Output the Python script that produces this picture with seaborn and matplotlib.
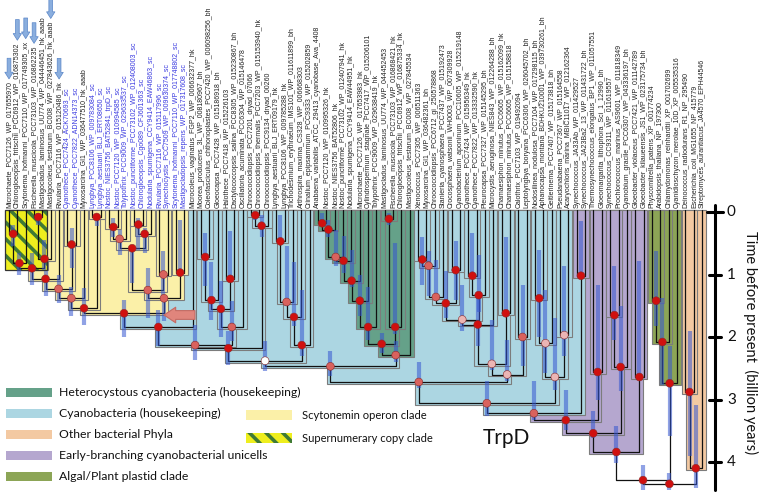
import matplotlib
matplotlib.use("Agg")
import matplotlib.pyplot as plt
import seaborn as sns
import pandas as pd
from matplotlib.patches import Rectangle

# ---- tips (left to right) ----
tip_labels = [
    "Microchaete_PCC7126_WP_017655970",
    "Chlorogloeopsis_fritschii_PCC6912_WP_016875302",
    "Scytonema_hofmanni_PCC7110_WP_017749305_xx",
    "Fischerella_muscicola_PCC73103_WP_016862235",
    "Mastigocladus_laminosus_UU774_WP_044446451_hk_aaab",
    "Mastigocoleus_testarum_BC008_WP_027843626_hk_aaab",
    "Rivularia_PCC7116_WP_015120486_hk",
    "Cyanothece_PCC7424_ACK70693_sc",
    "Cyanothece_PCC7822_ADN14373_sc",
    "Myxosarcina_GI1_WP_036477510_hk_aaab",
    "Lyngbya_PCC8106_WP_009783084_sc",
    "Lyngbya_aestuarii_BLJ_ERT08650_sc",
    "Nostoc_NIES3756_BAT52841_trpD_sc",
    "Nostoc_PCC7120_WP_010994585_sc",
    "Tolypothrix_PCC9009_WP_029633537_sc",
    "Nostoc_punctiforme_PCC73102_WP_012408003_sc",
    "Chlorogloeopsis_Cgo089_CFJ601363_sc",
    "Nodularia_spumigena_CCY9414_EAW46863_sc",
    "Rivularia_PCC7116_WP_015117996_sc",
    "Synechocystis_PCC7509_WP_009630374_sc",
    "Scytonema_hofmanni_PCC7110_WP_017748802_sc",
    "Mastigocladopsis_repens_WP_017317608_sc",
    "Microcoleus_vaginatus_FGP2_WP_006632377_hk",
    "Moorea_producens_3L_WP_008180967_bh",
    "Coleofasciculus_chthonoplastes_PCC7420_WP_006098256_bh",
    "Gloeocapsa_PCC7428_WP_015186918_bh",
    "Halothece_PCC7418_WP_015226103",
    "Dactylococcopsis_salina_PCC8305_WP_015230867_bh",
    "Oscillatoria_acuminata_PCC6304_WP_015146478",
    "Chroococcidiopsis_PCC7201_dryad_07066",
    "Chroococcidiopsis_thermalis_PCC7203_WP_015153940_hk",
    "Chroococcidiopsis_PCC9134_dryad_00260",
    "Lyngbya_aestuarii_BLJ_ERT09179_hk",
    "Lyngbya_PCC8106_WP_009785288_hk",
    "Trichodesmium_erythraeum_IMS101_WP_011611899_bh",
    "Arthrospira_maxima_CS328_WP_006668303",
    "Crinalium_epipsammum_PCC9333_WP_015202859",
    "Anabaena_variabilis_ATCC_29413_cyanobase_Ava_4408",
    "Nostoc_PCC7120_WP_010995326_hk",
    "Nostoc_NIES3756_BAT52806_hk",
    "Nostoc_punctiforme_PCC73102_WP_012407941_hk",
    "Nodularia_spumigena_CCY9414_EAW44951_hk",
    "Microchaete_PCC7126_WP_017653983_hk",
    "Cylindrospermum_stagnale_PCC7417_WP_015206101",
    "Tolypothrix_PCC9009_WP_029638419_hk",
    "Mastigocladus_laminosus_UU774_WP_044452453",
    "Fischerella_muscicola_PCC73103_WP_016868421_hk",
    "Chlorogloeopsis_fritschii_PCC6912_WP_016875334_hk",
    "Mastigocoleus_testarum_BC008_WP_027845534",
    "Xenococcus_PCC7305_WP_006511363",
    "Myxosarcina_GI1_WP_036482361_bh",
    "Chroococcidiopsis_PCC6712_gi_250578868",
    "Stanieria_cyanosphaera_PCC7437_WP_015192473",
    "Crocosphaera_watsonii_WH0003_WP_007309928",
    "Cyanobacterium_aponinum_PCC10605_WP_015219148",
    "Cyanothece_PCC7424_WP_015956349_hk",
    "Cyanothece_PCC7822_WP_013332590_hk",
    "Pleurocapsa_PCC7327_WP_015145295_bh",
    "Microcystis_aeruginosa_NIES843_WP_012264288_bh",
    "Chamaesiphon_minutus_PCC6605_WP_015162099_hk",
    "Chamaesiphon_minutus_PCC6605_WP_015158818",
    "Calothrix_PCC7103_WP_019492094",
    "Leptolyngbya_boryana_PCC6306_WP_026045702_bh",
    "Nodosilinea_nodulosa_PCC7104_WP_017298115_bh",
    "Aphanocapsa_montana_BDHKU210001_WP_039730261_bh",
    "Geitlerinema_PCC7407_WP_015173818_bh",
    "Pseudanabaena_PCC7367_WP_015164558",
    "Acaryochloris_marina_MBIC11017_WP_012162364",
    "Synechococcus_JA33Ab_WP_011429527",
    "Synechococcus_JA23Ba2_13_WP_011431722_bh",
    "Thermosynechococcus_elongatus_BP1_WP_011057551",
    "Gloeomargarita_lithophora_Sci_1_12990_bh",
    "Synechococcus_CC9311_WP_011619557",
    "Prochlorococcus_marinus_AS9601_WP_011818349",
    "Cyanobium_gracile_PCC6307_WP_043336197_bh",
    "Gloeobacter_violaceus_PCC7421_WP_011142789",
    "Gloeobacter_kilaueensis_JS1_WP_023175734_bh",
    "Physcomitrella_patens_XP_001774234",
    "Arabidopsis_thaliana_NP_197300",
    "Chlamydomonas_reinhardtii_XP_001702699",
    "Cyanidioschyzon_merolae_10D_XP_005535316",
    "Deinococcus_radiodurans_R1_NP_295490",
    "Escherichia_coli_MG1655_NP_415779",
    "Streptomyces_aurantiacus_JA4570_EPH44546",
]
blue_tips = [7, 8] + list(range(10, 22))
arrow_tips = [0, 1, 2, 3, 5, 6]

# ---- internal nodes: (name, left, right, age, ci_low, ci_high, support) ----
yellow_nodes = [
    ("a", 0, 1, 0.35, 0.20, 0.55, "r"),
    ("b", "a", 2, 0.82, 0.65, 1.00, "r"),
    ("c", 3, 4, 0.08, 0.02, 0.20, "r"),
    ("d", "c", 5, 0.75, 0.45, 0.93, "r"),
    ("e", "b", "d", 0.90, 0.66, 1.17, "r"),
    ("f", "e", 6, 1.07, 0.95, 1.35, "r"),
    ("g78", 7, 8, 0.52, 0.26, 0.90, "r"),
    ("g", "f", "g78", 1.23, 1.00, 1.46, "s"),
    ("h", "g", 9, 1.38, 1.20, 1.67, "s"),
    ("ly", 10, 11, 0.08, 0.05, 0.23, "r"),
    ("i", "h", "ly", 1.54, 1.22, 1.81, "r"),
    ("no1", 12, 13, 0.24, 0.10, 0.40, "r"),
    ("no2", "no1", 14, 0.43, 0.29, 0.69, "s"),
    ("no3", 15, 16, 0.20, 0.10, 0.60, "r"),
    ("no4", "no3", 17, 0.35, 0.26, 0.66, "r"),
    ("no5", "no2", "no4", 0.58, 0.55, 1.14, "r"),
    ("ri", 18, 19, 1.00, 0.63, 1.35, "s"),
    ("no6", "no5", "ri", 1.25, 0.90, 1.70, "s"),
    ("sc", 20, 21, 0.97, 0.13, 0.97, "r"),
    ("no7", "no6", "sc", 1.38, 1.35, 1.75, "s"),
    ("j", "i", "no7", 1.62, 1.40, 2.00, "r"),
]
hatched_tips = [0, 5]
hatched_age = 0.93

blue_nodes = [
    ("k", "j", 22, 1.84, 1.57, 2.15, "r"),
    ("m1", 23, 24, 0.72, 0.34, 1.19, "r"),
    ("m2", "m1", 25, 1.41, 0.80, 1.73, "r"),
    ("m3", 26, 27, 1.07, 0.31, 1.06, "r"),
    ("m4", "m2", "m3", 1.55, 1.10, 2.00, "r"),
    ("m5", "m4", 28, 1.84, 1.43, 2.07, "s"),
    ("P", "k", "m5", 2.13, 1.80, 2.37, "s"),
    ("r1", 29, 30, 0.05, 0.00, 0.13, "r"),
    ("r2", "r1", 31, 0.22, 0.05, 0.40, "r"),
    ("Q", "P", "r2", 2.18, 1.90, 2.45, "r"),
    ("l1", 32, 33, 0.47, 0.05, 0.50, "r"),
    ("l2", "l1", 34, 1.44, 0.55, 1.50, "s"),
    ("l3", "l2", 35, 1.68, 0.80, 1.83, "r"),
    ("l4", "l3", 36, 2.13, 1.25, 2.30, "r"),
    ("W", "Q", "l4", 2.38, 2.07, 2.55, "w"),
    ("S", "W", "h9", 2.47, 2.23, 2.63, "s"),
    ("x1", 49, 50, 0.76, 0.40, 1.17, "r"),
    ("x2", "x1", 51, 0.86, 0.63, 1.35, "s"),
    ("x3", "x2", 52, 1.36, 0.77, 1.43, "s"),
    ("x4", 53, 54, 0.93, 0.47, 1.40, "r"),
    ("x5", "x3", "x4", 1.46, 0.95, 1.70, "r"),
    ("c1", 55, 56, 1.02, 0.34, 1.06, "r"),
    ("c2", "c1", 57, 1.33, 0.69, 1.60, "r"),
    ("x6", "x5", "c2", 1.72, 1.17, 1.90, "p"),
    ("x7", "x6", 58, 1.80, 1.30, 2.15, "r"),
    ("ch", 59, 60, 1.62, 0.40, 1.65, "r"),
    ("x8", "x7", "ch", 2.43, 1.73, 2.53, "p"),
    ("ca", 61, 62, 2.00, 1.17, 2.47, "s"),
    ("x9", "x8", "ca", 2.60, 2.05, 2.71, "p"),
    ("T", "S", "x9", 2.72, 2.40, 2.82, "s"),
    ("nd", 63, 64, 1.38, 0.61, 2.00, "r"),
    ("nd2", "nd", 65, 2.10, 1.25, 2.58, "p"),
    ("ps", 66, 67, 1.97, 0.87, 2.31, "p"),
    ("nd3", "nd2", "ps", 2.64, 1.70, 2.85, "p"),
    ("U", "T", "nd3", 3.06, 2.70, 3.27, "s"),
    ("V", "U", "sj", 3.22, 2.71, 3.33, "s"),
]

green_nodes = [
    ("h1", 37, 38, 0.18, 0.02, 0.20, "r"),
    ("h2", "h1", 39, 0.28, 0.12, 0.40, "r"),
    ("h3", "h2", 40, 0.72, 0.29, 0.87, "s"),
    ("h4", "h3", 41, 0.78, 0.39, 0.98, "r"),
    ("h5", "h4", 42, 1.10, 0.60, 1.20, "r"),
    ("h6", "h5", 43, 1.42, 1.00, 1.67, "r"),
    ("h7", "h6", 44, 1.84, 1.20, 2.05, "r"),
    ("f1", 45, 46, 0.11, 0.02, 0.20, "r"),
    ("f2", "f1", 47, 1.84, 0.50, 1.95, "r"),
    ("h8", "h7", "f2", 2.11, 1.94, 2.26, "r"),
    ("h9", "h8", 48, 2.29, 2.07, 2.40, "s"),
]

purple_nodes = [
    ("sj", 68, 69, 1.02, 0.15, 1.03, "r"),
    ("tg", 70, 71, 2.56, 1.17, 3.00, "r"),
    ("V2", "V", "tg", 3.33, 2.85, 3.49, "r"),
    ("sp", 72, 73, 1.65, 0.87, 2.05, "r"),
    ("sp2", "sp", 74, 2.48, 1.51, 2.87, "r"),
    ("V3", "V2", "sp2", 3.54, 3.19, 3.62, "r"),
    ("gb", 75, 76, 2.64, 0.79, 2.69, "r"),
    ("CY", "V3", "gb", 3.84, 3.43, 4.02, "r"),
]

olive_nodes = [
    ("p1", 77, 78, 1.42, 0.63, 1.83, "r"),
    ("p2", "p1", 79, 2.08, 1.38, 2.77, "r"),
    ("p3", "p2", 80, 2.74, 2.15, 3.59, "r"),
]

orange_nodes = [
    ("o1", 81, 82, 2.88, 1.91, 3.91, "r"),
    ("o2", "o1", 83, 4.10, 3.09, 4.42, "r"),
]

root_nodes = [
    ("A", "CY", "p3", 4.29, 4.05, 4.45, "r"),
    ("R", "A", "o2", 4.35, 4.18, 4.45, "r"),
]

time_ticks = [0, 1, 2, 3, 4]

legend_left = [
    ("Heterocystous cyanobacteria (housekeeping)", "#65a189"),
    ("Cyanobacteria (housekeeping)", "#acd6e2"),
    ("Other bacterial Phyla", "#f3c9a2"),
    ("Early-branching cyanobacterial unicells", "#b5a7cf"),
    ("Algal/Plant plastid clade", "#8ca556"),
]
legend_right = ["Scytonemin operon clade", "Supernumerary copy clade"]

clade_fill = {
    "yellow": "#fbf0a8", "blue": "#acd6e2", "green": "#65a189",
    "purple": "#b5a7cf", "olive": "#8ca556", "orange": "#f3c9a2",
}
support_color = {"r": "#d0100f", "s": "#d9625d", "p": "#ebb5b4", "w": "#ffffff"}

W_PX, H_PX = 760, 496


def dx(p):
    # figure pixel column -> tip units
    return (p - 9) / 8.35


def dy(p):
    # figure pixel row -> age (billion years)
    return (p - 212) / 62.5


def main():
    sns.set_theme(style="white")
    plt.rcParams["font.family"] = ["Lato", "DejaVu Sans"]
    plt.rcParams["hatch.linewidth"] = 2.6

    groups = [("yellow", yellow_nodes), ("blue", blue_nodes),
              ("green", green_nodes), ("purple", purple_nodes),
              ("olive", olive_nodes), ("orange", orange_nodes),
              (None, root_nodes)]
    nodes = {}
    for clade, lst in groups:
        for name, l, r, age, lo, hi, sup in lst:
            nodes[name] = dict(l=l, r=r, age=age, lo=lo, hi=hi, sup=sup,
                               clade=clade)

    def xpos(k):
        if isinstance(k, int):
            return float(k)
        n = nodes[k]
        if "x" not in n:
            n["x"] = (xpos(n["l"]) + xpos(n["r"])) / 2
        return n["x"]

    def age(k):
        return -0.03 if isinstance(k, int) else nodes[k]["age"]

    for k in nodes:
        xpos(k)

    fig = plt.figure(figsize=(W_PX / 100, H_PX / 100), dpi=100)
    ax = fig.add_axes([0, 0, 1, 1])
    ax.set_xlim(dx(0), dx(W_PX))
    ax.set_ylim(dy(H_PX), dy(0))

    # clade shading, deepest first so nested boxes show their outlines
    pad = 0.45
    shaded = sorted([k for k in nodes if nodes[k]["clade"]],
                    key=lambda k: -nodes[k]["age"])
    for k in shaded:
        n = nodes[k]
        x0, x1 = xpos(n["l"]) - pad, xpos(n["r"]) + pad
        ax.add_patch(Rectangle((x0, -0.03), x1 - x0, n["age"] + 0.06,
                               fc=clade_fill[n["clade"]], ec="#7c7c7c",
                               lw=0.8, zorder=1))
    hx0, hx1 = hatched_tips[0] - 0.5, hatched_tips[1] - 0.4
    ax.add_patch(Rectangle((hx0, -0.03), hx1 - hx0, hatched_age + 0.03,
                           fc="#eeee1e", ec="#3f7a35", hatch="\\\\",
                           lw=0, zorder=1.5))
    ax.add_patch(Rectangle((hx0, -0.03), hx1 - hx0, hatched_age + 0.03,
                           fill=False, ec="#333333", lw=0.9, zorder=1.6))

    # branches
    for k, n in nodes.items():
        xl, xr = xpos(n["l"]), xpos(n["r"])
        ax.plot([xl, xr], [n["age"], n["age"]], color="#111111", lw=0.9,
                zorder=2, solid_capstyle="butt")
        for c in (n["l"], n["r"]):
            ax.plot([xpos(c), xpos(c)], [age(c), n["age"]], color="#111111",
                    lw=0.9, zorder=2)

    # age uncertainty bars
    df = pd.DataFrame([dict(name=k, x=n["x"], age=n["age"], lo=n["lo"],
                            hi=n["hi"], sup=n["sup"]) for k, n in nodes.items()])
    ax.vlines(df["x"], df["lo"], df["hi"], colors="#3556d0", alpha=0.55,
              lw=3.0, zorder=3)

    sns.scatterplot(data=df, x="x", y="age", hue="sup",
                    palette=support_color, s=32, edgecolor="#8a2a2a",
                    linewidth=0.4, legend=False, zorder=5, ax=ax)

    # tip labels
    texts = {}
    for i, lab in enumerate(tip_labels):
        col = "#3a3ae0" if i in blue_tips else "#222222"
        texts[i] = ax.text(i, -0.07, lab, rotation=90, ha="center",
                           va="bottom", fontsize=5.0, color=col,
                           family=["Liberation Sans", "DejaVu Sans"],
                           zorder=6)

    # time axis on the right
    axx = dx(715)
    ax.plot([axx, axx], [dy(205), dy(490)], color="black", lw=2.2, zorder=6)
    for t in time_ticks:
        half = 0.9 if t == 0 else 0.75
        ax.plot([axx - half, axx + half], [t, t], color="black", lw=2.2,
                zorder=6)
        ax.text(dx(727), t, str(t), ha="left", va="center", fontsize=11,
                color="#111111")
    ax.text(dx(751), dy(343), "Time before present  (billion years)",
            rotation=270, ha="center", va="center", fontsize=10.5,
            color="#111111")

    # legend
    for row, (lab, col) in enumerate(legend_left):
        yc = 392 + row * 21
        ax.add_patch(Rectangle((dx(6), dy(yc - 4.5)), dx(52) - dx(6),
                               dy(yc + 4.5) - dy(yc - 4.5), fc=col, lw=0))
        ax.text(dx(59), dy(yc), lab, ha="left", va="center", fontsize=8.8,
                color="#111111")
    for row, lab in enumerate(legend_right):
        yc = 415 + row * 23
        if row == 0:
            ax.add_patch(Rectangle((dx(246), dy(yc - 5)), dx(292) - dx(246),
                                   dy(yc + 5) - dy(yc - 5),
                                   fc=clade_fill["yellow"], lw=0))
        else:
            ax.add_patch(Rectangle((dx(246), dy(yc - 5)), dx(292) - dx(246),
                                   dy(yc + 5) - dy(yc - 5), fc="#eeee1e",
                                   ec="#3f7a35", hatch="\\\\", lw=0))
        ax.text(dx(302), dy(yc), lab, ha="left", va="center", fontsize=8.0,
                color="#111111")

    ax.text(dx(483), dy(444), "TrpD", ha="left", va="baseline", fontsize=15,
            color="#111111")

    # salmon arrow pointing at the scytonemin clade root
    ax.annotate("", xy=(dx(164), dy(315)), xytext=(dx(195), dy(315)),
                arrowprops=dict(arrowstyle="simple,head_length=0.6,"
                                "head_width=0.8,tail_width=0.45",
                                fc="#e0857c", ec="#c46a62", lw=0.8,
                                mutation_scale=14, shrinkA=0, shrinkB=0),
                zorder=7)

    ax.set_axis_off()

    # blue arrows above the supernumerary labels
    fig.canvas.draw()
    rend = fig.canvas.get_renderer()
    inv = ax.transData.inverted()
    for i in arrow_tips:
        bb = texts[i].get_window_extent(rend)
        top = inv.transform((bb.x0, bb.y1))[1]
        ax.annotate("", xy=(i, top - 0.03), xytext=(i, top - 0.36),
                    arrowprops=dict(arrowstyle="simple,head_length=0.8,"
                                    "head_width=1.0,tail_width=0.45",
                                    fc="#8aaede", ec="#5a86c8", lw=0.5,
                                    mutation_scale=6, shrinkA=0, shrinkB=0),
                    annotation_clip=False, zorder=7)

    fig.savefig("out.png", dpi=100)
    plt.close(fig)


if __name__ == "__main__":
    main()
